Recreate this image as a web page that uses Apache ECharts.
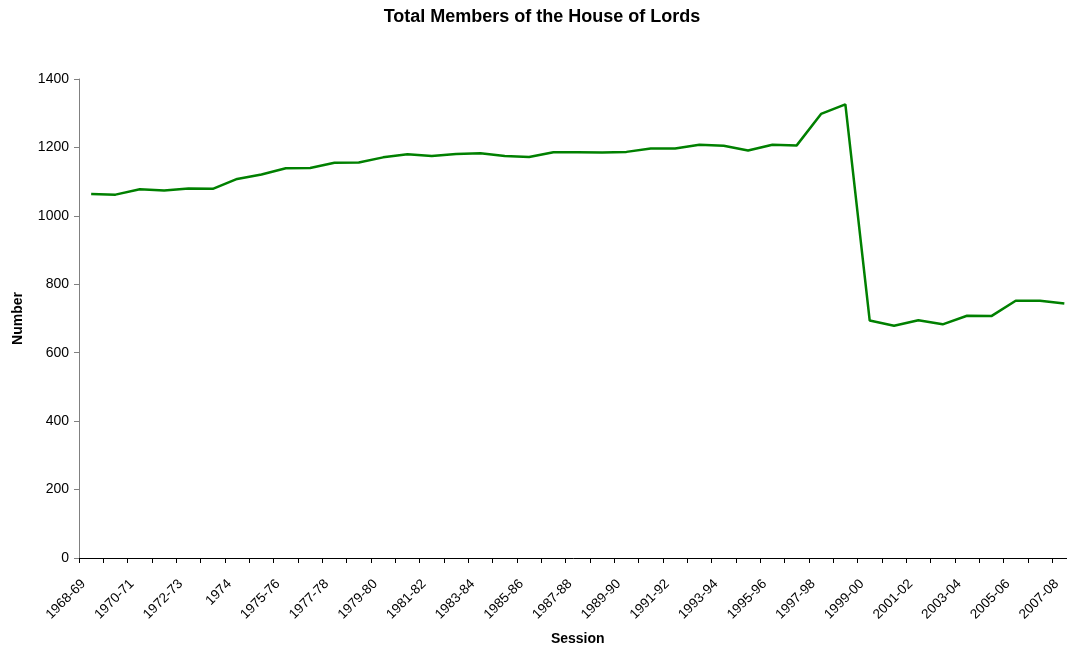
<!DOCTYPE html>
<html>
<head>
<meta charset="utf-8">
<script src="https://cdn.jsdelivr.net/npm/echarts@6/dist/echarts.min.js"></script>
<style>html,body{margin:0;padding:0;background:#fff;}#c{width:1067px;height:648px;}</style>
</head>
<body>
<div id="c"></div>
<script>
const sessions = ["1968-69","1969-70","1970-71","1971-72","1972-73","1973-74","1974","1974-75","1975-76","1976-77","1977-78","1978-79","1979-80","1980-81","1981-82","1982-83","1983-84","1984-85","1985-86","1986-87","1987-88","1988-89","1989-90","1990-91","1991-92","1992-93","1993-94","1994-95","1995-96","1996-97","1997-98","1998-99","1999-00","2000-01","2001-02","2002-03","2003-04","2004-05","2005-06","2006-07","2007-08"];
const members = [1064,1062,1078,1074,1080,1079,1108,1121,1139,1140,1155,1156,1171,1180,1175,1181,1183,1175,1172,1186,1186,1185,1187,1197,1197,1208,1205,1191,1208,1206,1298,1326,694,679,695,683,708,707,752,752,744];
const yTicks = {min:0, max:1400, interval:200};

const FONT = 'Liberation Sans, Arial, sans-serif';
const chart = echarts.init(document.getElementById('c'));
chart.setOption({
  animation:false,
  backgroundColor:'#ffffff',
  title:{text:'Total Members of the House of Lords', left:537, top:3, textAlign:'center',
    textStyle:{fontFamily:FONT, fontSize:18, fontWeight:'bold', color:'#000'}},
  grid:{left:79, top:79, width:997.5, height:479, containLabel:false, outerBoundsMode:'none'},
  xAxis:{type:'category', data:sessions, boundaryGap:true,
    name:'Session', nameLocation:'middle', nameGap:74,
    nameTextStyle:{fontFamily:FONT, fontSize:14, fontWeight:'bold', color:'#000'},
    axisLine:{lineStyle:{color:'#000', width:1}},
    axisTick:{show:true, interval:0, length:5, lineStyle:{color:'#000'}},
    axisLabel:{interval:1, rotate:45, fontFamily:FONT, fontSize:13.5, color:'#000', margin:16, padding:[0,11,0,0]},
    splitLine:{show:false}},
  yAxis:{type:'value', min:yTicks.min, max:yTicks.max, interval:yTicks.interval,
    name:'Number', nameLocation:'middle', nameGap:54, nameRotate:90,
    nameTextStyle:{fontFamily:FONT, fontSize:14, fontWeight:'bold', color:'#000'},
    axisLine:{show:true, lineStyle:{color:'#808080', width:1}},
    axisTick:{show:true, length:5, lineStyle:{color:'#808080'}},
    axisLabel:{fontFamily:FONT, fontSize:14, color:'#000', margin:10, formatter:function(v){return String(v);}},
    splitLine:{show:false}},
  series:[{type:'line', data:members, symbol:'none', smooth:false,
    lineStyle:{color:'#008000', width:2.5}}]
});
</script>
</body>
</html>
